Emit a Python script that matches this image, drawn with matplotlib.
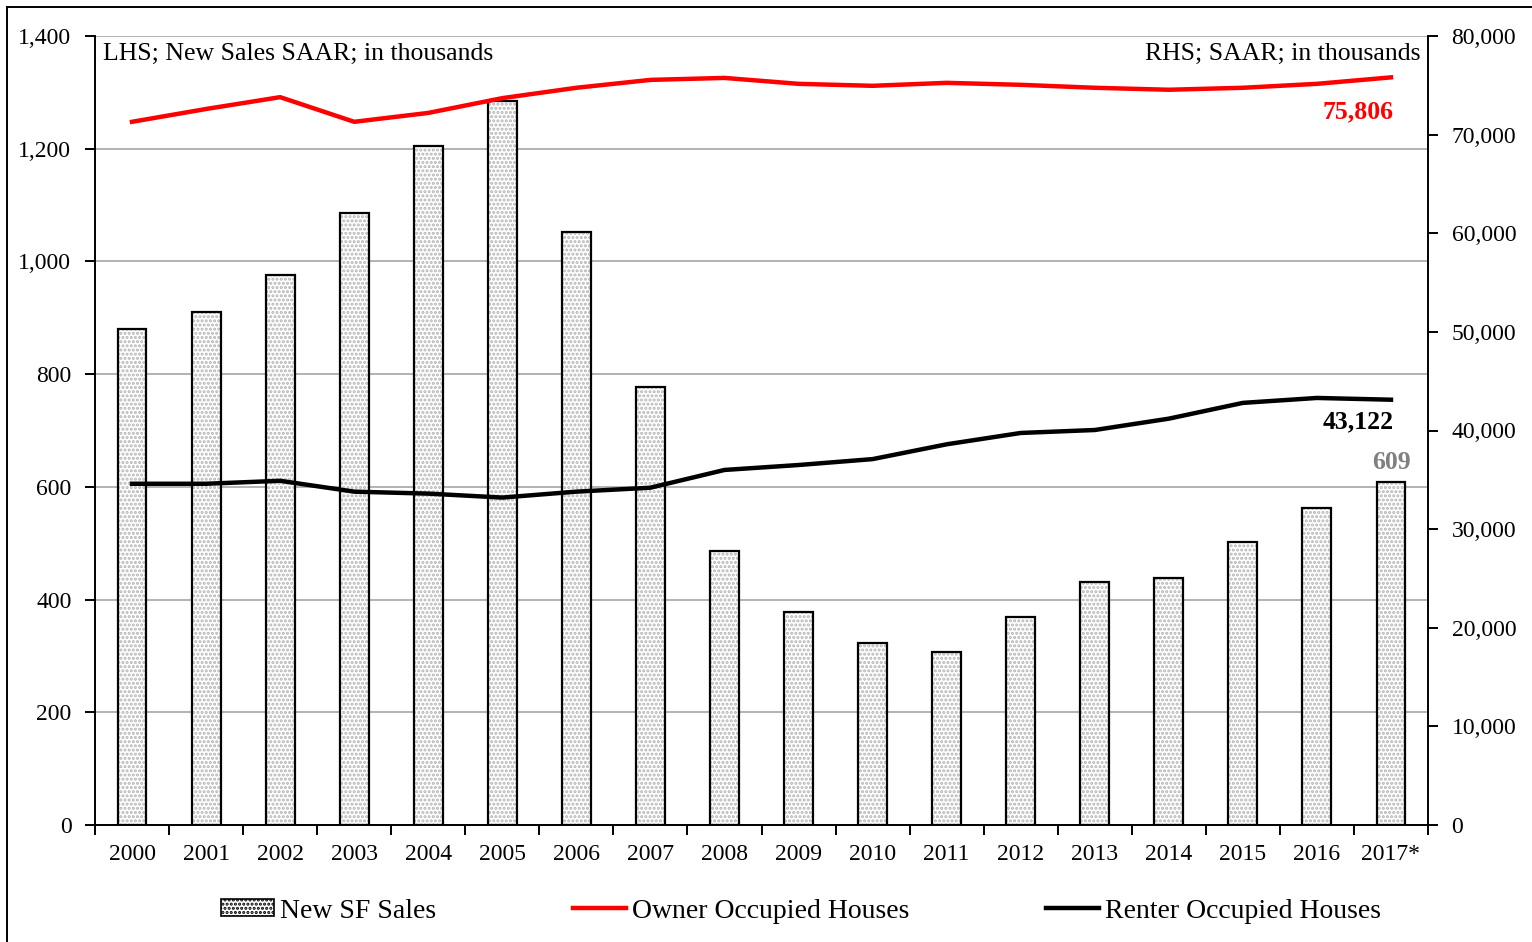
import matplotlib

matplotlib.use("Agg")
import matplotlib.pyplot as plt
from matplotlib.lines import Line2D
from matplotlib.patches import Patch, Rectangle
from matplotlib.ticker import FuncFormatter, MultipleLocator
import numpy as np

years = ["2000", "2001", "2002", "2003", "2004", "2005", "2006", "2007", "2008",
         "2009", "2010", "2011", "2012", "2013", "2014", "2015", "2016", "2017*"]
new_sf_sales = [880, 910, 976, 1086, 1205, 1285, 1052, 777, 486,
                378, 323, 307, 369, 431, 438, 502, 562, 609]
owner_occupied = [71300, 72600, 73800, 71300, 72200, 73700, 74750, 75550, 75750,
                  75150, 74950, 75250, 75050, 74750, 74550, 74750, 75150, 75806]
renter_occupied = [34600, 34600, 34900, 33800, 33600, 33200, 33800, 34200, 36000,
                   36500, 37100, 38600, 39750, 40050, 41200, 42800, 43300, 43122]

plt.rcParams["font.family"] = ["Liberation Serif", "DejaVu Serif"]
plt.rcParams["hatch.color"] = "#b4b4b4"
plt.rcParams["hatch.linewidth"] = 1.5

fig = plt.figure(figsize=(15.32, 9.42), dpi=100)
ax = fig.add_axes([95 / 1532, 1 - 825 / 942, (1428 - 95) / 1532, (825 - 36) / 942])
ax2 = ax.twinx()

x = np.arange(len(years))
# bars: dotted fill first, then black outline on top
ax.bar(x, new_sf_sales, width=0.39, color="white", hatch="....",
       edgecolor="#b4b4b4", linewidth=0, zorder=2)
ax.bar(x, new_sf_sales, width=0.39, fill=False, edgecolor="black",
       linewidth=1.6, zorder=3)

ax2.plot(x, owner_occupied, color="#ff0000", linewidth=3.2, zorder=4)
ax2.plot(x, renter_occupied, color="black", linewidth=3.2, zorder=4)

ax.set_xlim(-0.5, len(years) - 0.5)
ax.set_ylim(0, 1400)
ax2.set_ylim(0, 80000)
ax.yaxis.set_major_locator(MultipleLocator(200))
ax2.yaxis.set_major_locator(MultipleLocator(10000))
comma = FuncFormatter(lambda v, _: f"{v:,.0f}")
ax.yaxis.set_major_formatter(comma)
ax2.yaxis.set_major_formatter(comma)

ax.set_xticks(x)
ax.set_xticklabels(years)
ax.set_xticks(np.arange(len(years) + 1) - 0.5, minor=True)
ax.tick_params(axis="x", which="major", length=0, labelsize=17, pad=14)
ax.tick_params(axis="x", which="minor", length=7, width=1.4, direction="out")
ax.tick_params(axis="y", length=7, width=1.4, labelsize=17, pad=10)
ax2.tick_params(axis="y", length=7, width=1.4, labelsize=17, pad=10)

ax.grid(axis="y", color="#a6a6a6", linewidth=1.2, zorder=0)
ax.set_axisbelow(True)
for a in (ax, ax2):
    a.spines["top"].set_visible(False)
    a.spines["left"].set_linewidth(1.4)
    a.spines["right"].set_linewidth(1.4)
    a.spines["bottom"].set_linewidth(1.4)
ax2.spines["left"].set_visible(False)
ax.spines["right"].set_visible(False)
ax2.spines["bottom"].set_visible(False)

ax.text(0.006, 0.977, "LHS; New Sales SAAR; in thousands", transform=ax.transAxes,
        ha="left", va="center", fontsize=18.5)
ax.text(0.994, 0.977, "RHS; SAAR; in thousands", transform=ax.transAxes,
        ha="right", va="center", fontsize=18.5)

ax2.annotate(f"{owner_occupied[-1]:,}", (x[-1], owner_occupied[-1]), xytext=(2, -25),
             textcoords="offset points", ha="right", va="center",
             fontsize=18.5, fontweight="bold", color="#ff0000")
ax2.annotate(f"{renter_occupied[-1]:,}", (x[-1], renter_occupied[-1]), xytext=(2, -16),
             textcoords="offset points", ha="right", va="center",
             fontsize=18.5, fontweight="bold", color="black")
ax.annotate(f"{new_sf_sales[-1]}", (x[-1], new_sf_sales[-1]), xytext=(0, 14),
            textcoords="offset points", ha="center", va="center",
            fontsize=18.5, fontweight="bold", color="#808080")

# legend
handles = [
    Patch(facecolor="white", hatch="....", edgecolor="black", linewidth=1.2),
    Line2D([], [], color="#ff0000", linewidth=3.2),
    Line2D([], [], color="black", linewidth=3.2),
]
labels = ["New SF Sales", "Owner Occupied Houses", "Renter Occupied Houses"]
fig.legend(handles, labels, loc="center", bbox_to_anchor=(801 / 1532, 1 - 911 / 942),
           ncol=3, frameon=False, fontsize=20, columnspacing=4.95,
           handlelength=1.9, handletextpad=0.2, handleheight=0.55)

fig.patches.append(Rectangle((7 / 1532, -0.01), 1.02, 1 - 7 / 942 + 0.01,
                             transform=fig.transFigure, fill=False,
                             edgecolor="black", linewidth=1.4))

fig.savefig("out.png", dpi=100)
